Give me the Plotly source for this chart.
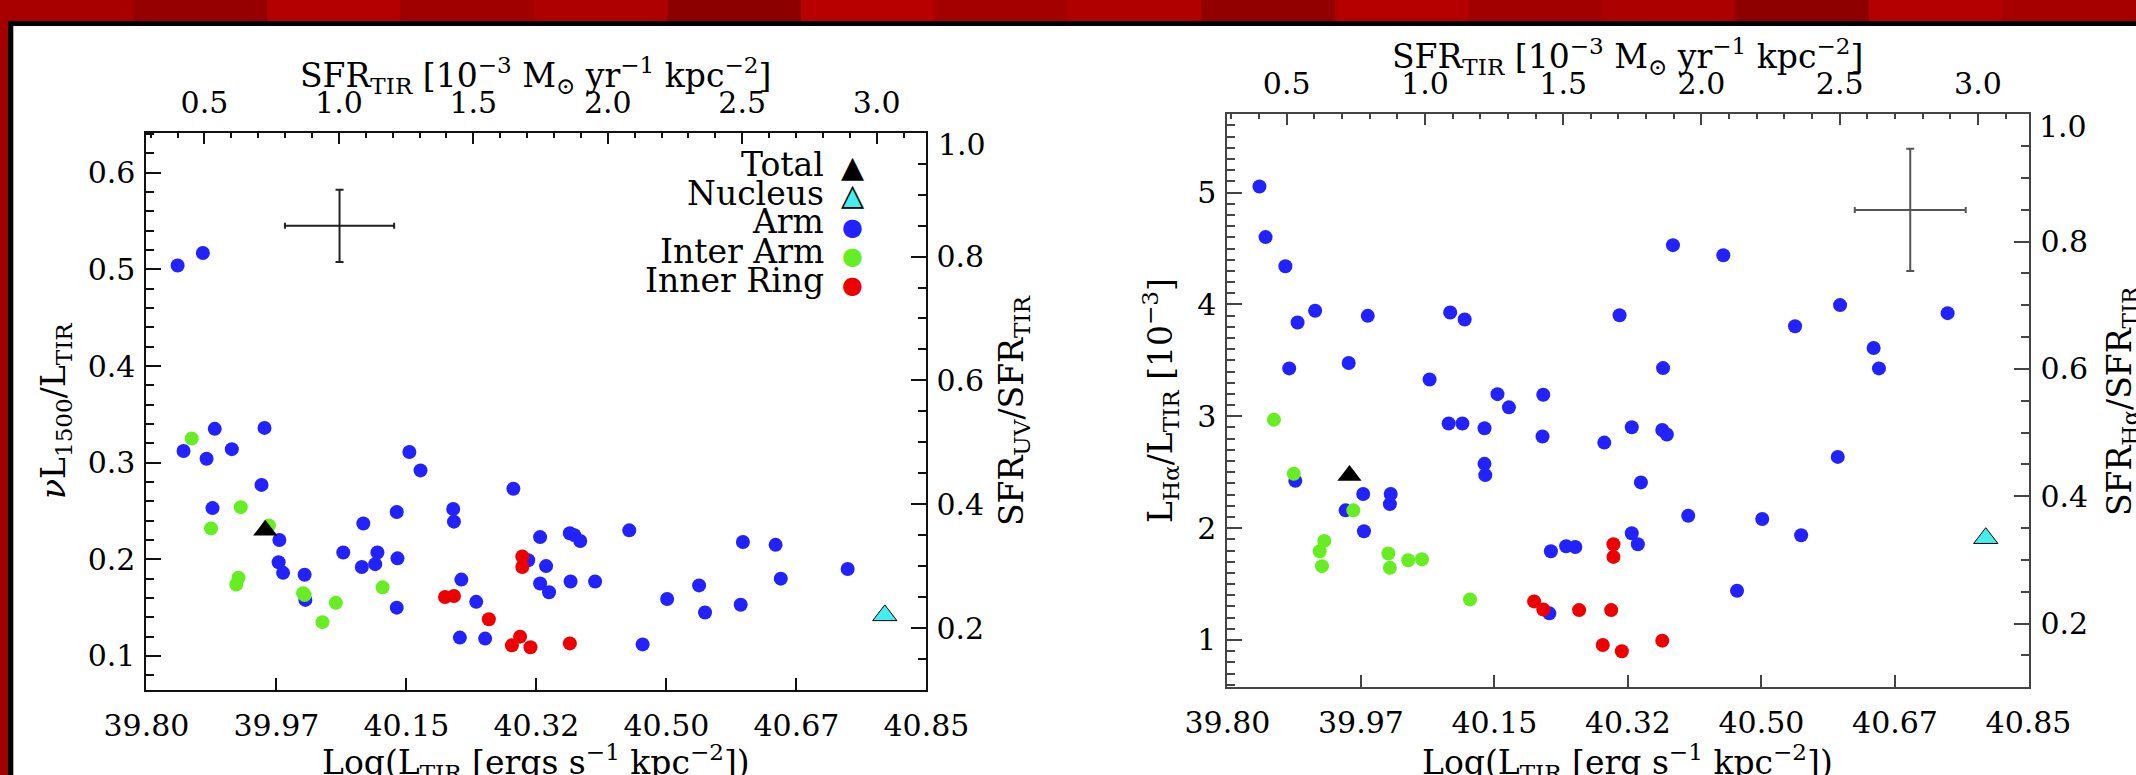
import plotly.graph_objects as go

W, H = 2136, 775

# ---------------- data ----------------
# Arm regions: log L_TIR, nuL1500/L_TIR, L_Halpha/L_TIR [1e-3]
arm_x = [39.842, 39.850, 39.876, 39.881, 39.889, 39.892, 39.915, 39.955, 39.959, 39.978,
         39.979, 39.984, 40.013, 40.014, 40.065, 40.090, 40.092, 40.108, 40.111, 40.137,
         40.137, 40.138, 40.154, 40.169, 40.213, 40.214, 40.222, 40.224, 40.244, 40.256,
         40.294, 40.314, 40.330, 40.330, 40.338, 40.342, 40.370, 40.371, 40.376, 40.384,
         40.404, 40.450, 40.468, 40.501, 40.544, 40.552, 40.600, 40.603, 40.647, 40.654,
         40.744]
arm_uv = [0.504, 0.312, 0.517, 0.304, 0.253, 0.335, 0.314, 0.277, 0.336, 0.197,
          0.220, 0.186, 0.184, 0.158, 0.207, 0.192, 0.237, 0.195, 0.207, 0.249,
          0.150, 0.201, 0.311, 0.292, 0.252, 0.239, 0.119, 0.179, 0.156, 0.118,
          0.273, 0.199, 0.223, 0.175, 0.193, 0.166, 0.227, 0.177, 0.225, 0.219,
          0.177, 0.230, 0.112, 0.159, 0.173, 0.145, 0.153, 0.218, 0.215, 0.180,
          0.190]
arm_ha = [5.054, 4.602, 4.341, 3.428, 2.423, 3.838, 3.943, 2.159, 3.476, 2.305,
          1.972, 3.898, 2.215, 2.305, 3.329, 2.935, 3.928, 2.935, 3.865, 2.893,
          2.575, 2.474, 3.198, 3.080, 2.819, 3.192, 1.238, 1.793, 1.838, 1.832,
          2.765, 3.904, 2.902, 1.954, 1.856, 2.409, 2.878, 3.431, 2.837, 4.530,
          2.111, 4.440, 1.440, 2.082, 3.805, 1.936, 2.637, 3.994, 3.611, 3.428,
          3.922]

inter_x = [39.861, 39.887, 39.927, 39.924, 39.921, 39.965, 40.011, 40.013, 40.037, 40.055, 40.118]
inter_uv = [0.325, 0.232, 0.254, 0.181, 0.174, 0.235, 0.165, 0.163, 0.135, 0.155, 0.171]
inter_ha = [2.970, 2.486, 1.886, 1.660, 1.793, 2.159, 1.773, 1.645, 1.713, 1.722, 1.363]

ring_x = [40.202, 40.214, 40.261, 40.292, 40.303, 40.317, 40.306, 40.306, 40.370]
ring_uv = [0.161, 0.162, 0.138, 0.111, 0.120, 0.109, 0.203, 0.192, 0.113]
ring_ha = [1.345, 1.273, 1.267, 0.955, 1.267, 0.899, 1.856, 1.743, 0.994]

total_x = [39.960]
total_uv = [0.230]
total_ha = [2.47]

nucleus_x = [40.794]
nucleus_uv = [0.142]
nucleus_ha = [1.91]

# typical error bars
err_uv_x, err_uv_y, err_uv_dx, err_uv_dy = [40.060], [0.545], [0.0735], [0.0375]
err_ha_x, err_ha_y, err_ha_dx, err_ha_dy = [40.695], [4.845], [0.0727], [0.547]

# ticks
x_tick_vals = [39.80, 39.975, 40.15, 40.325, 40.50, 40.675, 40.85]
x_tick_text = ["39.80", "39.97", "40.15", "40.32", "40.50", "40.67", "40.85"]
sfr_tick_vals = [0.5, 1.0, 1.5, 2.0, 2.5, 3.0]
sfr_tick_text = ["0.5", "1.0", "1.5", "2.0", "2.5", "3.0"]
uv_tick_vals = [0.1, 0.2, 0.3, 0.4, 0.5, 0.6]
uv_tick_text = ["0.1", "0.2", "0.3", "0.4", "0.5", "0.6"]
ha_tick_vals = [1, 2, 3, 4, 5]
ha_tick_text = ["1", "2", "3", "4", "5"]
ratio_tick_vals = [0.2, 0.4, 0.6, 0.8]
ratio_tick_text = ["0.2", "0.4", "0.6", "0.8"]

legend_names = ["Total", "Nucleus", "Arm", "Inter Arm", "Inner Ring"]

# ---------------- style ----------------
C_ARM = "#2222ff"
C_INTER = "#66ee22"
C_RING = "#ee0000"
C_NUC = "#44eeee"
FONT = "DejaVu Serif"
DOT = 14
TRI = 21
TITLE = 33


def fx(px):
    return px / W


def fy(py):
    return 1 - py / H


fig = go.Figure()


def panel(xa, ya, uvals, tvals, nvals, ivals, rvals, err, errcol):
    fig.add_trace(go.Scatter(x=arm_x, y=uvals, mode="markers", xaxis=xa, yaxis=ya,
                             marker=dict(color=C_ARM, size=DOT), showlegend=False))
    fig.add_trace(go.Scatter(x=inter_x, y=ivals, mode="markers", xaxis=xa, yaxis=ya,
                             marker=dict(color=C_INTER, size=DOT), showlegend=False))
    fig.add_trace(go.Scatter(x=ring_x, y=rvals, mode="markers", xaxis=xa, yaxis=ya,
                             marker=dict(color=C_RING, size=DOT), showlegend=False))
    fig.add_trace(go.Scatter(x=total_x, y=tvals, mode="markers", xaxis=xa, yaxis=ya,
                             marker=dict(color="black", size=TRI, symbol="triangle-up"),
                             showlegend=False))
    fig.add_trace(go.Scatter(x=nucleus_x, y=nvals, mode="markers", xaxis=xa, yaxis=ya,
                             marker=dict(color=C_NUC, size=TRI, symbol="triangle-up",
                                         line=dict(color="black", width=1)),
                             showlegend=False))
    ex, ey, edx, edy = err
    fig.add_trace(go.Scatter(x=ex, y=ey, mode="markers", xaxis=xa, yaxis=ya,
                             marker=dict(size=2, color=errcol),
                             error_x=dict(type="data", array=edx, width=3, thickness=2, color=errcol),
                             error_y=dict(type="data", array=edy, width=4, thickness=2, color=errcol),
                             showlegend=False))


panel("x", "y", arm_uv, total_uv, nucleus_uv, inter_uv, ring_uv,
      (err_uv_x, err_uv_y, err_uv_dx, err_uv_dy), "#222222")
panel("x3", "y3", arm_ha, total_ha, nucleus_ha, inter_ha, ring_ha,
      (err_ha_x, err_ha_y, err_ha_dx, err_ha_dy), "#555555")

# dummy traces so the secondary axes exist
for xa, ya in [("x2", "y"), ("x", "y2"), ("x4", "y3"), ("x3", "y4")]:
    fig.add_trace(go.Scatter(x=[None], y=[None], xaxis=xa, yaxis=ya, showlegend=False,
                             hoverinfo="skip"))


def axis_common(col, size=30):
    return dict(showline=True, linewidth=2, linecolor=col, ticks="inside",
                tickcolor=col, tickwidth=2, showgrid=False, zeroline=False,
                automargin=False,
                tickfont=dict(family=FONT, size=size, color="black"))


L_COL = "#111111"
R_COL = "#444444"

# panel geometry (pixels)
LX0, LX1, LY0, LY1 = 146.4, 926.4, 132.7, 690.0
RX0, RX1, RY0, RY1 = 1227.4, 2028.5, 114.3, 687.3

layout_axes = dict(
    xaxis=dict(domain=[fx(LX0), fx(LX1)], anchor="y", range=[39.80, 40.85],
               tickmode="array", tickvals=x_tick_vals, ticktext=x_tick_text,
               ticklen=12, ticklabelstandoff=8, **axis_common(L_COL)),
    xaxis2=dict(overlaying="x", side="top", anchor="y", range=[0.284, 3.185],
                tickmode="array", tickvals=sfr_tick_vals, ticktext=sfr_tick_text,
                ticklen=11, ticklabelstandoff=6,
                minor=dict(ticks="inside", ticklen=5, tickmode="linear", tick0=0, dtick=0.1,
                           tickcolor=L_COL, tickwidth=1.5),
                **axis_common(L_COL)),
    yaxis=dict(domain=[fy(LY1), fy(LY0)], anchor="x", range=[0.0648, 0.6414],
               tickmode="array", tickvals=uv_tick_vals, ticktext=uv_tick_text,
               ticklen=15, ticklabelstandoff=3,
               minor=dict(ticks="inside", ticklen=8, tickmode="linear", tick0=0, dtick=0.02,
                          tickcolor=L_COL, tickwidth=1.5),
               **axis_common(L_COL)),
    yaxis2=dict(overlaying="y", side="right", anchor="x", range=[0.1, 1.0],
                tickmode="array", tickvals=ratio_tick_vals, ticktext=ratio_tick_text,
                ticklen=15, ticklabelstandoff=2,
                minor=dict(ticks="inside", ticklen=8, tickmode="linear", tick0=0, dtick=0.05,
                           tickcolor=L_COL, tickwidth=1.5),
                **axis_common(L_COL)),
    xaxis3=dict(domain=[fx(RX0), fx(RX1)], anchor="y3", range=[39.80, 40.85],
                tickmode="array", tickvals=x_tick_vals, ticktext=x_tick_text,
                ticklen=12, ticklabelstandoff=8, **axis_common(R_COL)),
    xaxis4=dict(overlaying="x3", side="top", anchor="y3", range=[0.2856, 3.183],
                tickmode="array", tickvals=sfr_tick_vals, ticktext=sfr_tick_text,
                ticklen=11, ticklabelstandoff=6,
                minor=dict(ticks="inside", ticklen=5, tickmode="linear", tick0=0, dtick=0.1,
                           tickcolor=R_COL, tickwidth=1.5),
                **axis_common(R_COL)),
    yaxis3=dict(domain=[fy(RY1), fy(RY0)], anchor="x3", range=[0.577, 5.70],
                tickmode="array", tickvals=ha_tick_vals, ticktext=ha_tick_text,
                ticklen=15, ticklabelstandoff=3,
                minor=dict(ticks="inside", ticklen=8, tickmode="linear", tick0=0, dtick=0.1,
                           tickcolor=R_COL, tickwidth=1.5),
                **axis_common(R_COL)),
    yaxis4=dict(overlaying="y3", side="right", anchor="x3", range=[0.1, 1.0],
                tickmode="array", tickvals=ratio_tick_vals, ticktext=ratio_tick_text,
                ticklen=15, ticklabelstandoff=4,
                minor=dict(ticks="inside", ticklen=8, tickmode="linear", tick0=0, dtick=0.05,
                           tickcolor=R_COL, tickwidth=1.5),
                **axis_common(R_COL)),
)

ann = []


def text_ann(txt, px, py, size=TITLE, angle=0, xanchor="center", family=FONT, color="black"):
    ann.append(dict(text=txt, x=fx(px), y=fy(py), xref="paper", yref="paper",
                    xanchor=xanchor, yanchor="middle", showarrow=False, textangle=angle,
                    font=dict(family=family, size=size, color=color)))


sfr_title = "SFR<sub>TIR</sub> [10<sup>−3</sup> M<sub>⊙</sub> yr<sup>−1</sup> kpc<sup>−2</sup>]"
# left panel titles
text_ann("Log(L<sub>TIR</sub> [ergs s<sup>−1</sup> kpc<sup>−2</sup>])", 535.5, 762)
text_ann(sfr_title, 535, 76)
text_ann("<i>ν</i>L<sub>1500</sub>/L<sub>TIR</sub>", 56, 411, angle=-90)
text_ann("SFR<sub>UV</sub>/SFR<sub>TIR</sub>", 1014, 411, angle=-90)
# right panel titles
text_ann("Log(L<sub>TIR</sub> [erg s<sup>−1</sup> kpc<sup>−2</sup>])", 1627, 762)
text_ann(sfr_title, 1627, 56)
text_ann("L<sub>Hα</sub>/L<sub>TIR</sub> [10<sup>−3</sup>]", 1160, 401, angle=-90)
text_ann("SFR<sub>Hα</sub>/SFR<sub>TIR</sub>", 2121, 401, angle=-90)
# top labels of right axes
text_ann("1.0", 936, 144, size=30, xanchor="left")
text_ann("1.0", 2037, 126, size=30, xanchor="left")

# legend (text then symbol)
leg_rows = [164, 193, 222, 251, 280]
leg_sym = ["▲", "▲", "●", "●", "●"]
leg_col = ["black", C_NUC, C_ARM, C_INTER, C_RING]
for name, row in zip(legend_names, leg_rows):
    text_ann(name, 826, row, size=33, xanchor="right")
for i, (row, sym, col) in enumerate(zip(leg_rows, leg_sym, leg_col)):
    sz = 30 if sym == "▲" else 24
    dy = 2 if sym == "▲" else 5
    text_ann(sym, 852, row + dy, size=sz, family="DejaVu Sans", color=col)
    if i == 1:
        text_ann("△", 852, row + dy, size=sz, family="DejaVu Sans", color="black")

# page background: red textured band, black rim, white sheet
band_cols = ["#a80000", "#960000", "#b40000", "#a00000", "#ae0000", "#8c0000",
             "#b80000", "#a40000", "#b00000", "#920000", "#b60000", "#a20000",
             "#ac0000", "#8e0000", "#b40000", "#a60000"]
shapes = []
nb = len(band_cols)
for i, c in enumerate(band_cols):
    shapes.append(dict(type="rect", xref="paper", yref="paper", x0=i / nb, x1=(i + 1) / nb,
                       y0=fy(21), y1=1, fillcolor=c, line=dict(width=0), layer="below"))
shapes += [
    dict(type="rect", xref="paper", yref="paper", x0=fx(8), x1=1, y0=0, y1=fy(21),
         fillcolor="black", line=dict(width=0), layer="below"),
    dict(type="rect", xref="paper", yref="paper", x0=fx(13.3), x1=1, y0=0, y1=fy(26),
         fillcolor="white", line=dict(width=0), layer="below"),
]

fig.update_layout(
    width=W, height=H, margin=dict(l=0, r=0, t=0, b=0, pad=0),
    paper_bgcolor="#a30000", plot_bgcolor="rgba(0,0,0,0)",
    font=dict(family=FONT, size=30, color="black"),
    showlegend=False, annotations=ann, shapes=shapes,
    **layout_axes,
)

fig.write_html("out.html", config={"displayModeBar": False},
               post_script="document.body.style.margin='0';document.body.style.overflow='hidden';")
